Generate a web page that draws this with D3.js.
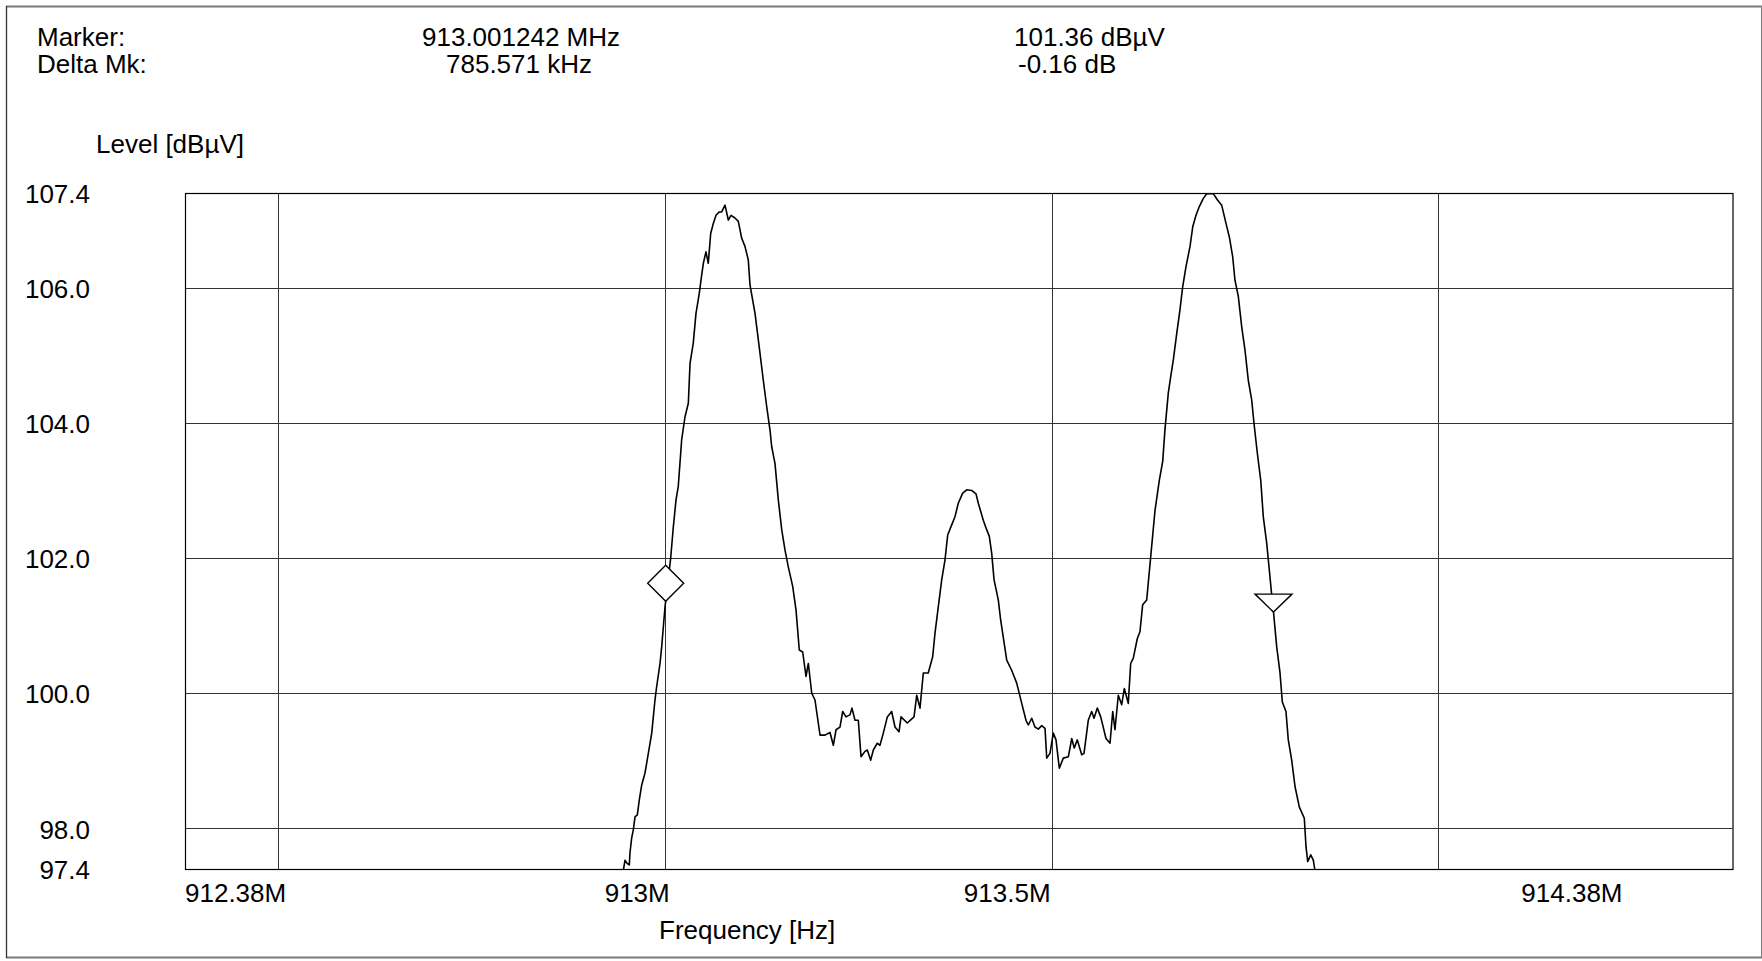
<!doctype html>
<html>

<head>
	<meta charset="utf-8">
	<style>
		body { margin: 0; background: #fff; }
		svg text { font-family: "Liberation Sans", Arial, sans-serif; font-size: 26px; fill: #000; }
	</style>
</head>

<body>
	<div class="figure"></div>

	<script src="https://d3js.org/d3.v7.min.js"></script>
	<script>
		// trace: frequency [MHz] / level [dBµV]
		let freqMHz = [
			912.9440, 912.9465, 912.9487, 912.9516, 912.9542, 912.9551, 912.9573, 912.9594, 912.9616, 912.9646,
			912.9671, 912.9702, 912.9745, 912.9788, 912.9832, 912.9874, 912.9896, 912.9939, 912.9961, 912.9982,
			913.0004, 913.0012, 913.0077, 913.0111, 913.0146, 913.0175, 913.0219, 913.0262, 913.0305, 913.0327,
			913.0369, 913.0404, 913.0447, 913.0478, 913.0499, 913.0533, 913.0563, 913.0594, 913.0628, 913.0663,
			913.0705, 913.0736, 913.0779, 913.0822, 913.0857, 913.0908, 913.0951, 913.0995, 913.1037, 913.1080,
			913.1102, 913.1167, 913.1231, 913.1274, 913.1318, 913.1361, 913.1382, 913.1425, 913.1468, 913.1512,
			913.1554, 913.1597, 913.1654, 913.1697, 913.1739, 913.1783, 913.1826, 913.1856, 913.1900, 913.1942,
			913.2007, 913.2071, 913.2136, 913.2179, 913.2214, 913.2265, 913.2300, 913.2343, 913.2394, 913.2420,
			913.2459, 913.2502, 913.2537, 913.2588, 913.2618, 913.2662, 913.2696, 913.2747, 913.2782, 913.2825,
			913.2877, 913.2933, 913.2976, 913.3028, 913.3054, 913.3135, 913.3222, 913.3257, 913.3299, 913.3342,
			913.3406, 913.3463, 913.3493, 913.3536, 913.3580, 913.3622, 913.3657, 913.3709, 913.3751, 913.3794,
			913.3851, 913.3903, 913.3967, 913.4023, 913.4053, 913.4117, 913.4161, 913.4195, 913.4226, 913.4256,
			913.4311, 913.4342, 913.4420, 913.4484, 913.4549, 913.4614, 913.4669, 913.4699, 913.4743, 913.4785,
			913.4828, 913.4872, 913.4915, 913.4937, 913.4979, 913.5022, 913.5057, 913.5100, 913.5151, 913.5216,
			913.5260, 913.5293, 913.5332, 913.5389, 913.5419, 913.5474, 913.5518, 913.5548, 913.5591, 913.5635,
			913.5703, 913.5755, 913.5790, 913.5819, 913.5862, 913.5906, 913.5940, 913.5991, 913.6022, 913.6056,
			913.6108, 913.6142, 913.6177, 913.6229, 913.6281, 913.6336, 913.6392, 913.6436, 913.6465, 913.6508,
			913.6539, 913.6573, 913.6617, 913.6659, 913.6694, 913.6737, 913.6789, 913.6824, 913.6866, 913.6909,
			913.6961, 913.7004, 913.7090, 913.7142, 913.7198, 913.7254, 913.7297, 913.7340, 913.7370, 913.7413,
			913.7457, 913.7499, 913.7542, 913.7586, 913.7616, 913.7659, 913.7703, 913.7736, 913.7780, 913.7814,
			913.7845, 913.7868, 913.7909, 913.7952, 913.7982, 913.8029, 913.8059, 913.8103, 913.8146, 913.8201,
			913.8266, 913.8288, 913.8310, 913.8349, 913.8382, 913.8404, 913.8420
		];
		let levelDbuv = [
			97.00, 97.38, 97.53, 97.48, 97.46, 97.64, 97.86, 97.98, 98.17, 98.20,
			98.42, 98.64, 98.82, 99.11, 99.41, 99.90, 100.10, 100.44, 100.69, 100.98,
			101.28, 101.36, 102.00, 102.46, 102.86, 103.06, 103.75, 104.09, 104.29, 104.88,
			105.18, 105.62, 105.92, 106.19, 106.36, 106.53, 106.36, 106.80, 106.95, 107.07,
			107.12, 107.12, 107.22, 107.00, 107.07, 107.03, 106.98, 106.73, 106.61, 106.41,
			106.04, 105.62, 105.03, 104.63, 104.24, 103.89, 103.65, 103.40, 102.86, 102.42,
			102.12, 101.87, 101.58, 101.23, 100.64, 100.61, 100.25, 100.44, 100.00, 99.90,
			99.38, 99.38, 99.42, 99.23, 99.46, 99.50, 99.73, 99.65, 99.68, 99.78,
			99.60, 99.60, 99.06, 99.14, 99.16, 99.01, 99.16, 99.26, 99.23, 99.41,
			99.65, 99.73, 99.50, 99.43, 99.65, 99.56, 99.65, 99.97, 99.78, 100.30,
			100.30, 100.54, 100.89, 101.28, 101.68, 101.97, 102.34, 102.49, 102.61, 102.81,
			102.96, 103.01, 103.00, 102.95, 102.81, 102.56, 102.42, 102.32, 102.07, 101.68,
			101.38, 101.08, 100.49, 100.34, 100.15, 99.85, 99.60, 99.53, 99.63, 99.50,
			99.47, 99.52, 99.48, 99.04, 99.11, 99.41, 99.31, 98.89, 99.04, 99.06,
			99.33, 99.19, 99.31, 99.09, 99.11, 99.60, 99.73, 99.63, 99.78, 99.65,
			99.33, 99.26, 99.73, 99.46, 99.97, 99.83, 100.07, 99.85, 100.44, 100.52,
			100.81, 100.91, 101.31, 101.38, 102.02, 102.70, 103.15, 103.43, 103.90, 104.44,
			104.68, 104.93, 105.32, 105.67, 106.01, 106.31, 106.61, 106.90, 107.07, 107.20,
			107.32, 107.39, 107.39, 107.30, 107.22, 106.95, 106.75, 106.46, 106.11, 105.87,
			105.42, 105.08, 104.63, 104.34, 103.99, 103.55, 103.15, 102.61, 102.22, 101.82,
			101.45, 101.20, 100.69, 100.30, 99.87, 99.73, 99.31, 99.01, 98.62, 98.32,
			98.15, 97.73, 97.51, 97.61, 97.53, 97.38, 97.00
		];

		let yTicks = [107.4, 106.0, 104.0, 102.0, 100.0, 98.0, 97.4];
		let yGrid = [106, 104, 102, 100, 98];
		let xGrid = [912.5, 913, 913.5, 914];
		let xTickValues = [912.38, 913, 913.5, 914.38];
		let xTickLabels = ["912.38M", "913M", "913.5M", "914.38M"];

		let markerFreq = 913.001242, markerLevel = 101.36;
		let deltaFreq = 0.785571, deltaLevel = -0.16;
		let headerLabels = ["Marker:", "Delta Mk:"];
		let headerFreq = ["913.001242 MHz", "785.571 kHz"];
		let headerLevel = ["101.36 dBµV", "-0.16 dB"];

		let W = 1762, H = 961;
		let pLeft = 185, pRight = 1732.5, pTop = 193, pBottom = 869;

		let svg = d3.select(".figure")
			.append("svg")
			.attr("width", W)
			.attr("height", H)
			.style("background-color", "white")
			.style("display", "block");

		// outer frame
		svg.append("line").attr("x1", 6).attr("x2", W).attr("y1", 6.5).attr("y2", 6.5)
			.attr("stroke", "#7a7a7a").attr("stroke-width", 2);
		svg.append("line").attr("x1", 6).attr("x2", W).attr("y1", 957.5).attr("y2", 957.5)
			.attr("stroke", "#7a7a7a").attr("stroke-width", 2);
		svg.append("line").attr("x1", 6.5).attr("x2", 6.5).attr("y1", 6).attr("y2", 958)
			.attr("stroke", "#333").attr("stroke-width", 1.3);
		svg.append("line").attr("x1", 1761.5).attr("x2", 1761.5).attr("y1", 6).attr("y2", 958)
			.attr("stroke", "#7a7a7a").attr("stroke-width", 1);

		// header
		svg.selectAll(".hl").data(headerLabels).enter().append("text")
			.attr("x", 37).attr("y", (d, i) => 45.5 + i * 27.5).text(d => d);
		svg.selectAll(".hf").data(headerFreq).enter().append("text")
			.attr("x", (d, i) => i === 0 ? 422 : 446).attr("y", (d, i) => 45.5 + i * 27.5).text(d => d);
		svg.selectAll(".hv").data(headerLevel).enter().append("text")
			.attr("x", (d, i) => i === 0 ? 1014 : 1018).attr("y", (d, i) => 45.5 + i * 27.5).text(d => d);

		let x = d3.scaleLinear().domain([912.38, 914.38]).range([pLeft, pRight]);
		let y = d3.scaleLinear().domain([97.4, 107.4]).range([pBottom, pTop]);

		// grid
		svg.append("g").selectAll("line").data(yGrid).enter().append("line")
			.attr("x1", pLeft).attr("x2", pRight)
			.attr("y1", d => Math.round(y(d)) + 0.5).attr("y2", d => Math.round(y(d)) + 0.5)
			.attr("stroke", "#333").attr("stroke-width", 1);
		svg.append("g").selectAll("line").data(xGrid).enter().append("line")
			.attr("y1", pTop).attr("y2", pBottom)
			.attr("x1", d => Math.round(x(d)) + 0.5).attr("x2", d => Math.round(x(d)) + 0.5)
			.attr("stroke", "#333").attr("stroke-width", 1);

		svg.append("rect")
			.attr("x", pLeft + 0.5).attr("y", pTop + 0.5)
			.attr("width", pRight - pLeft).attr("height", pBottom - pTop)
			.attr("fill", "none").attr("stroke", "#000").attr("stroke-width", 1.2);

		// y axis labels
		let yAxis = d3.axisLeft(y).tickValues(yTicks).tickFormat(d3.format(".1f"))
			.tickSize(0).tickPadding(pLeft - 90);
		let gy = svg.append("g").attr("transform", "translate(" + pLeft + ",0)").call(yAxis);
		gy.select(".domain").remove();
		gy.selectAll("text").attr("dy", "0.37em");
		gy.attr("font-family", null).attr("font-size", null);

		svg.append("text").attr("x", 96).attr("y", 153).text("Level [dBµV]");

		// x labels
		let xOffset = [0, 5, -1, -110];
		svg.selectAll(".xt").data(xTickValues).enter().append("text")
			.attr("x", (d, i) => x(d) + xOffset[i])
			.attr("y", 902)
			.attr("text-anchor", (d, i) => i === 0 ? "start" : "end")
			.text((d, i) => xTickLabels[i]);
		svg.append("text").attr("x", 659).attr("y", 939).text("Frequency [Hz]");

		// trace
		svg.append("clipPath").attr("id", "plotclip").append("rect")
			.attr("x", pLeft).attr("y", pTop).attr("width", pRight - pLeft).attr("height", pBottom - pTop + 1);

		let line = d3.line().x(d => x(d[0])).y(d => y(d[1]));
		let pts = freqMHz.map((f, i) => [f, levelDbuv[i]]);
		svg.append("path").datum(pts)
			.attr("clip-path", "url(#plotclip)")
			.attr("d", line)
			.attr("fill", "none").attr("stroke", "#000").attr("stroke-width", 1.6)
			.attr("stroke-linejoin", "round");

		// markers
		let mx = x(markerFreq), my = y(markerLevel);
		svg.append("path")
			.attr("d", d3.line()([[mx, my], [mx + 18, my - 18], [mx, my - 36], [mx - 18, my - 18]]) + "Z")
			.attr("fill", "white").attr("stroke", "#000").attr("stroke-width", 1.4);

		let dmx = x(markerFreq + deltaFreq), dmy = y(markerLevel + deltaLevel);
		svg.append("path")
			.attr("d", d3.line()([[dmx, dmy], [dmx + 18.5, dmy - 18], [dmx - 18.5, dmy - 18]]) + "Z")
			.attr("fill", "white").attr("stroke", "#000").attr("stroke-width", 1.4);
	</script>

</body>

</html>
